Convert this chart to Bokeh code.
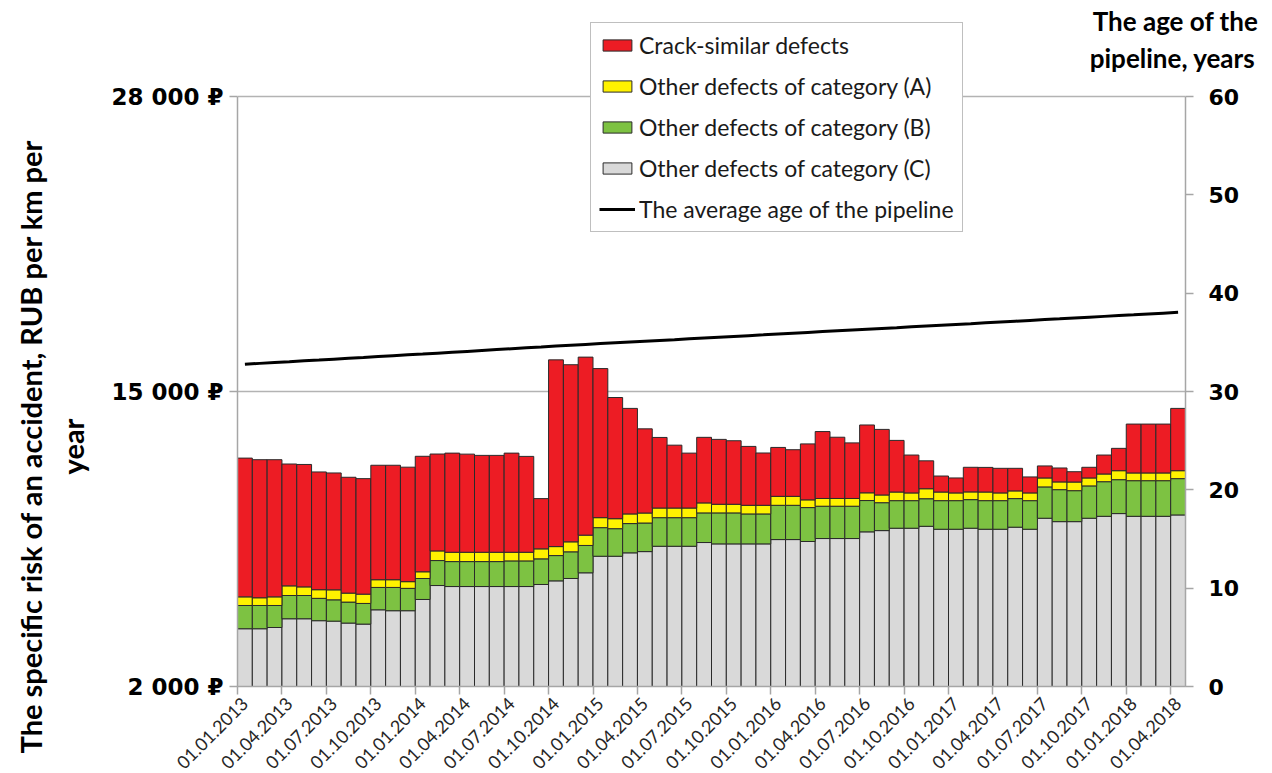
import math
from bokeh.plotting import figure
from bokeh.models import (Range1d, LinearAxis, FixedTicker, Legend, LegendItem,
                          Label, ColumnDataSource, GridBox)
from bokeh.embed import file_html
from bokeh.resources import INLINE

# ---------------- data ----------------
tick_labels = ["01.01.2013", "01.04.2013", "01.07.2013", "01.10.2013",
               "01.01.2014", "01.04.2014", "01.07.2014", "01.10.2014",
               "01.01.2015", "01.04.2015", "01.07.2015", "01.10.2015",
               "01.01.2016", "01.04.2016", "01.07.2016", "01.10.2016",
               "01.01.2017", "01.04.2017", "01.07.2017", "01.10.2017",
               "01.01.2018", "01.04.2018"]

months = [f"01.{m:02d}.{y}" for y in range(2013, 2019) for m in range(1, 13)][:64]

# Other defects of category (C)  (grey)
cat_c = [4545, 4545, 4600, 4985, 4985, 4900, 4880, 4795, 4750, 5380, 5340, 5340,
         5835, 6450, 6405, 6405, 6405, 6405, 6405, 6405, 6495, 6655, 6760, 7010,
         7740, 7740, 7890, 7945, 8180, 8180, 8180, 8345, 8285, 8285, 8285, 8285,
         8475, 8475, 8390, 8520, 8520, 8520, 8815, 8870, 8975, 8975, 9060, 8930,
         8930, 8975, 8930, 8930, 9020, 8930, 9415, 9265, 9265, 9415, 9500, 9620,
         9500, 9500, 9500, 9560]
# Other defects of category (B)  (green)
cat_b = [1025, 1025, 970, 1025, 1025, 985, 940, 925, 910, 985, 1025, 985,
         925, 1100, 1100, 1100, 1100, 1100, 1130, 1130, 1130, 1115, 1175, 1205,
         1260, 1215, 1290, 1260, 1260, 1260, 1260, 1305, 1365, 1365, 1320, 1320,
         1510, 1510, 1495, 1425, 1425, 1425, 1380, 1230, 1215, 1215, 1215, 1260,
         1260, 1260, 1260, 1260, 1260, 1260, 1380, 1410, 1365, 1425, 1525, 1495,
         1570, 1570, 1570, 1600]
# Other defects of category (A)  (yellow)
cat_a = [380, 340, 380, 425, 380, 380, 440, 395, 410, 340, 340, 295,
         295, 425, 410, 410, 410, 410, 380, 380, 440, 395, 440, 455,
         440, 440, 425, 440, 425, 425, 425, 440, 380, 380, 380, 380,
         395, 395, 340, 340, 340, 340, 340, 340, 380, 340, 440, 380,
         340, 340, 380, 340, 340, 340, 395, 340, 380, 350, 340, 395,
         340, 340, 340, 350]
# Crack-similar defects  (red)
crack = [6115, 6085, 6045, 5370, 5395, 5190, 5150, 5105, 5090, 5045, 5045, 5045,
         5090, 4270, 4370, 4325, 4270, 4270, 4370, 4225, 2215, 8230, 7805, 7845,
         6570, 5340, 4650, 3710, 3110, 2770, 2420, 2890, 2860, 2800, 2595, 2305,
         2155, 2055, 2465, 2950, 2700, 2450, 2990, 2890, 2275, 1670, 1230, 705,
         660, 1085, 1085, 1085, 995, 705, 530, 615, 455, 470, 835, 985,
         2155, 2155, 2155, 2745]
# The average age of the pipeline, years
age = [32.77, 32.86, 32.95, 33.03, 33.12, 33.20, 33.29, 33.38, 33.46, 33.55,
       33.64, 33.73, 33.81, 33.90, 33.99, 34.08, 34.17, 34.26, 34.35, 34.44,
       34.53, 34.63, 34.71, 34.79, 34.87, 34.95, 35.03, 35.11, 35.19, 35.27,
       35.36, 35.44, 35.52, 35.60, 35.68, 35.76, 35.85, 35.93, 36.01, 36.09,
       36.17, 36.25, 36.33, 36.41, 36.49, 36.58, 36.66, 36.74, 36.82, 36.90,
       36.99, 37.07, 37.15, 37.23, 37.31, 37.39, 37.48, 37.56, 37.64, 37.72,
       37.80, 37.89, 37.97, 38.05]

risk_min, risk_max = 2000, 28000
risk_ticks = [2000, 15000, 28000]
risk_tick_labels = ["2 000 ₽", "15 000 ₽", "28 000 ₽"]
age_min, age_max = 0, 60
age_ticks = [0, 10, 20, 30, 40, 50, 60]

series_names = ["Other defects of category (C)", "Other defects of category (B)",
                "Other defects of category (A)", "Crack-similar defects"]
series_colors = ["#D9D9D9", "#7DC242", "#FFF200", "#ED1C24"]

left_title = ["The specific risk of an accident, RUB per km per", "year"]
right_title = ["The age of the", "pipeline, years"]

# ---------------- layout geometry (pixels) ----------------
W, H = 1264, 765
AXIS_H = 590            # height of the value axes
TOP = 10                # plot frame starts above the axes so the legend fits inside it
FRAME_H = AXIS_H + (96 - TOP)
ext = FRAME_H / AXIS_H

n = len(months)
x = list(range(n))
src = ColumnDataSource(dict(x=x, c=cat_c, b=cat_b, a=cat_a, crack=crack, age=age))

p = figure(frame_width=948, frame_height=FRAME_H,
           min_border_left=237, min_border_top=TOP, min_border_right=W - 237 - 948,
           min_border_bottom=H - TOP - FRAME_H,
           x_range=Range1d(-0.5, n - 0.5),
           y_range=Range1d(risk_min, risk_min + (risk_max - risk_min) * ext),
           output_backend="svg", toolbar_location=None)
p.frame_align = False
p.outline_line_color = None
p.background_fill_color = "white"

rs = p.vbar_stack(["c", "b", "a", "crack"], x="x", width=1.0, source=src,
                  fill_color=series_colors, line_color="#2a2a2a", line_width=1)

p.extra_y_ranges = {"age": Range1d(age_min, age_min + (age_max - age_min) * ext)}
line_r = p.line("x", "age", source=src, y_range_name="age", line_color="black", line_width=3)

# grid
p.xgrid.visible = False
p.ygrid.ticker = FixedTicker(ticks=[15000, 28000])
p.ygrid.grid_line_color = "#b3b3b3"
p.ygrid.grid_line_width = 1.5

# x axis
xa = p.xaxis[0]
lab_idx = list(range(0, n, 3))
xa.ticker = FixedTicker(ticks=lab_idx, minor_ticks=[i - 0.5 for i in range(0, n + 1, 3)])
xa.major_label_overrides = {i: t for i, t in zip(lab_idx, tick_labels)}
xa.major_label_orientation = math.pi / 4
xa.major_tick_out = 0
xa.major_tick_in = 0
xa.minor_tick_out = 8
xa.minor_tick_in = 0
xa.minor_tick_line_color = "#a6a6a6"
xa.minor_tick_line_width = 1.5
xa.axis_line_color = "#a6a6a6"
xa.axis_line_width = 1.5
xa.major_label_text_font = "Lato"
xa.major_label_text_font_size = "18px"
xa.major_label_text_color = "#262626"
xa.major_label_standoff = 6

# left axis
ya = p.yaxis[0]
ya.bounds = (risk_min, risk_max)
ya.ticker = FixedTicker(ticks=risk_ticks, minor_ticks=[])
ya.major_label_overrides = {t: l for t, l in zip(risk_ticks, risk_tick_labels)}
ya.major_tick_out = 8
ya.major_tick_in = 0
ya.major_tick_line_color = "#a6a6a6"
ya.major_tick_line_width = 1.5
ya.axis_line_color = "#a6a6a6"
ya.axis_line_width = 1.5
ya.major_label_text_font = "DejaVu Sans"
ya.major_label_text_font_style = "bold"
ya.major_label_text_font_size = "23px"
ya.major_label_text_color = "black"
ya.major_label_standoff = 6

# right axis
ra = LinearAxis(y_range_name="age", bounds=(age_min, age_max),
                ticker=FixedTicker(ticks=age_ticks, minor_ticks=[]))
ra.major_tick_out = 8
ra.major_tick_in = 0
ra.major_tick_line_color = "#a6a6a6"
ra.major_tick_line_width = 1.5
ra.axis_line_color = "#a6a6a6"
ra.axis_line_width = 1.5
ra.major_label_text_font = "DejaVu Sans"
ra.major_label_text_font_style = "bold"
ra.major_label_text_font_size = "22px"
ra.major_label_text_color = "black"
ra.major_label_standoff = 15
p.add_layout(ra, "right")

# legend
items = [LegendItem(label=series_names[3], renderers=[rs[3]]),
         LegendItem(label=series_names[2], renderers=[rs[2]]),
         LegendItem(label=series_names[1], renderers=[rs[1]]),
         LegendItem(label=series_names[0], renderers=[rs[0]]),
         LegendItem(label="The average age of the pipeline", renderers=[line_r])]
legend = Legend(items=items, location=(353, 454))
legend.label_text_font = "Lato"
legend.label_text_font_size = "23px"
legend.label_text_color = "#1a1a1a"
legend.glyph_width = 36
legend.glyph_height = 14
legend.label_standoff = 4
legend.label_height = 28
legend.spacing = 13
legend.padding = 8
legend.margin = 0
legend.border_line_color = "#7f7f7f"
legend.border_line_width = 1.5
legend.background_fill_alpha = 1
p.add_layout(legend, "center")

# ---------------- transparent overlay carrying the axis titles ----------------
t = figure(width=W, height=H, x_range=Range1d(0, W), y_range=Range1d(H, 0),
           x_axis_type=None, y_axis_type=None, toolbar_location=None,
           output_backend="svg", min_border=0)
t.frame_align = False
t.outline_line_color = None
t.background_fill_alpha = 0
t.border_fill_alpha = 0

for txt, cx in zip(left_title, [30, 72]):
    t.add_layout(Label(x=cx, y=446, text=txt, angle=math.pi / 2, text_align="center",
                       text_baseline="middle", text_font="Lato", text_font_style="bold",
                       text_font_size="29px", text_color="black"))
for txt, cx, cy in zip(right_title, [1175, 1172], [20, 57]):
    t.add_layout(Label(x=cx, y=cy, text=txt, text_align="center", text_baseline="middle",
                       text_font="Lato", text_font_style="bold", text_font_size="26px",
                       text_color="black"))

layout = GridBox(children=[(p, 0, 0), (t, 0, 0)])
open("out.html", "w").write(file_html(layout, INLINE))
